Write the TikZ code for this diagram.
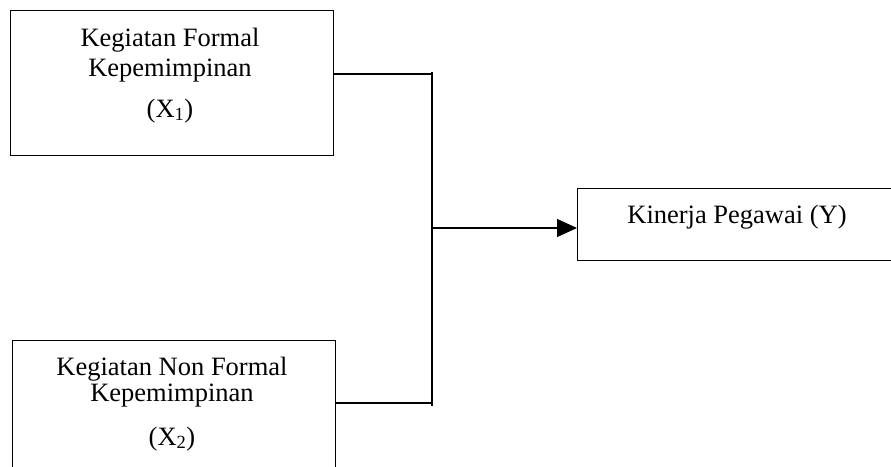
\documentclass[tikz,border=0pt]{standalone}
\usepackage{fontspec}
\setmainfont{Liberation Serif}
\usetikzlibrary{positioning,calc,arrows.meta}

\begin{document}
\begin{tikzpicture}[x=1pt,y=-1pt,
    box/.style={draw,line width=1.1pt,inner sep=0pt,anchor=north west},
    txt/.style={align=center,font=\fontsize{26.5}{30}\selectfont,anchor=base}]
    \useasboundingbox (0,0) rectangle (891,466);
    \clip (0,0) rectangle (891,466);
    % boxes
    \node[box,minimum width=323pt,minimum height=145pt] (x1) at (10,10) {};
    \node[box,minimum width=323pt,minimum height=160pt] (x2) at (12,340) {};
    \node[box,minimum width=340pt,minimum height=72pt] (y) at (577,188) {};
    % texts (anchor base = last line)
    \node[txt] (x1txt) at (170,117) {Kegiatan Formal\\Kepemimpinan\\[11pt](X\textsubscript{1})};
    \node[txt] (x2txt) at (172,445) {Kegiatan Non Formal\\[-4pt]Kepemimpinan\\[14pt](X\textsubscript{2})};
    \node[txt] (ytxt) at (737,223) {Kinerja Pegawai (Y)};
    % connectors
    \coordinate (j1) at (432,74);
    \coordinate (j2) at (432,403);
    \coordinate (jm) at (432,228);
    \draw[line width=1.1pt] (x1.east |- j1) -- (j1) -- ($(j2)+(0,3)$);
    \draw[line width=1.1pt] ($(j1)+(0,-2)$) -- (j1);
    \draw[line width=1.1pt] (x2.east |- j2) -- (j2);
    \draw[line width=1.1pt,-{Triangle[length=20pt,width=18pt]}] (jm) -- (jm -| y.west);
\end{tikzpicture}
\end{document}
